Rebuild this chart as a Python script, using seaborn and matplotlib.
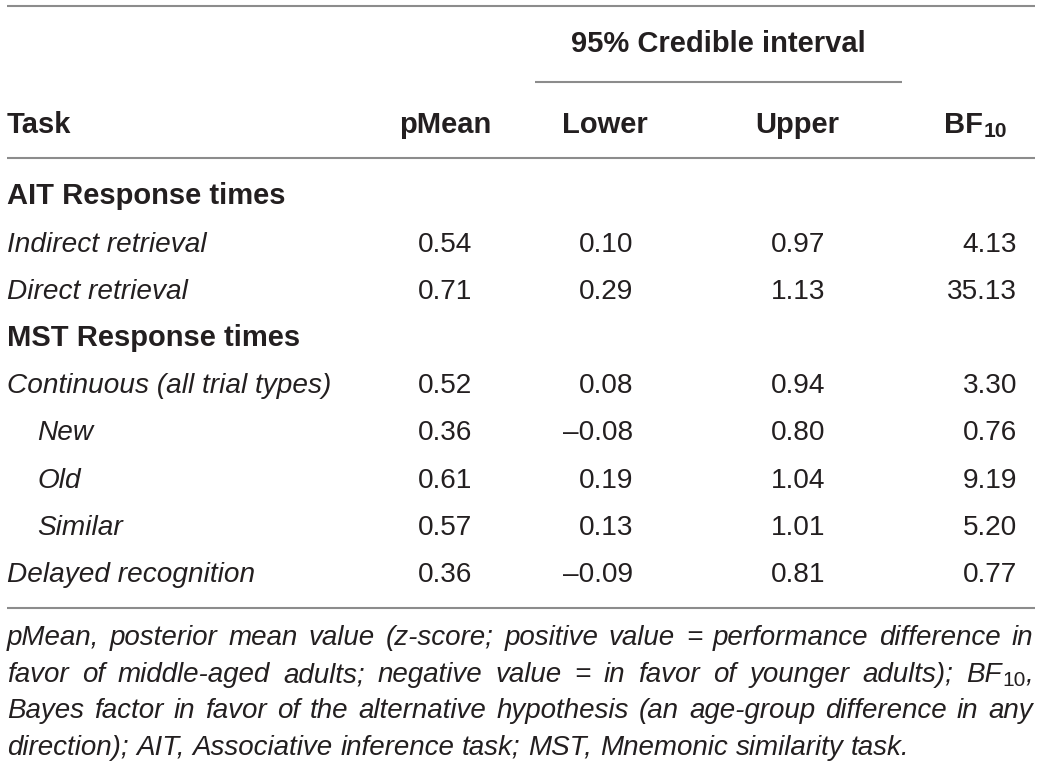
import matplotlib
matplotlib.use("Agg")
import matplotlib.pyplot as plt
import seaborn as sns

# ---------------- data ----------------
group_titles = ["AIT Response times", "MST Response times"]
task_labels = ["Indirect retrieval", "Direct retrieval",
               "Continuous (all trial types)", "New", "Old", "Similar",
               "Delayed recognition"]
task_group = [0, 0, 1, 1, 1, 1, 1]
task_indent = [0, 0, 0, 1, 1, 1, 0]
pmean = ["0.54", "0.71", "0.52", "0.36", "0.61", "0.57", "0.36"]
lower = ["0.10", "0.29", "0.08", "\u20130.08", "0.19", "0.13", "\u20130.09"]
upper = ["0.97", "1.13", "0.94", "0.80", "1.04", "1.01", "0.81"]
bf10 = ["4.13", "35.13", "3.30", "0.76", "9.19", "5.20", "0.77"]
col_headers = ["Task", "pMean", "Lower", "Upper"]
span_header = "95% Credible interval"
footnote_lines = [
    "pMean, posterior mean value (z-score; positive value = performance difference in",
    "favor of middle-aged adults; negative value = in favor of younger adults); BF|10|,",
    "Bayes factor in favor of the alternative hypothesis (an age-group difference in any",
    "direction); AIT, Associative inference task; MST, Mnemonic similarity task.",
]

# ---------------- style ----------------
sns.set_theme(style="white")
plt.rcParams["font.family"] = ["Liberation Sans", "DejaVu Sans"]
TXT = "#231f20"
RULE = "#8c8c8c"
FS = 20.2          # body size (pt)
FSB = 21.0         # bold size (pt)
FS_FOOT = 20.0     # footnote size (pt)

W, H = 1042, 769
fig = plt.figure(figsize=(W / 100, H / 100), dpi=100)
ax = fig.add_axes([0, 0, 1, 1])
ax.set_xlim(0, W)
ax.set_ylim(H, 0)
ax.axis("off")
renderer = fig.canvas.get_renderer()


def width_of(t):
    bb = t.get_window_extent(renderer=renderer)
    return bb.width


def runs_text(x, y, runs, ha="left"):
    objs = []
    total = 0
    for (s, fs, wt, st, dy) in runs:
        t = ax.text(0, y + dy, s, fontsize=fs, fontweight=wt, fontstyle=st,
                    color=TXT, va="baseline", ha="left")
        w = width_of(t)
        objs.append((t, w))
        total += w
    if ha == "right":
        x0 = x - total
    elif ha == "center":
        x0 = x - total / 2
    else:
        x0 = x
    cx = x0
    for t, w in objs:
        t.set_x(cx)
        cx += w
    return total


# rules
L, R = 7, 1035
for yy in [5.5, 158, 608]:
    ax.plot([L, R], [yy, yy], color=RULE, lw=1.5, solid_capstyle="butt")
ax.plot([535, 902], [82, 82], color=RULE, lw=1.5, solid_capstyle="butt")

# headers
ax.text(718.5, 52, span_header, fontsize=FSB, fontweight="bold", color=TXT,
        ha="center", va="baseline")
hdr_x = [7, 445, 605, 797]
hdr_ha = ["left", "center", "center", "center"]
for s, xx, ha in zip(col_headers, hdr_x, hdr_ha):
    ax.text(xx, 133, s, fontsize=FSB, fontweight="bold", color=TXT,
            ha=ha, va="baseline")
runs_text(1007, 133, [("BF", FSB, "bold", "normal", 0),
                      ("10", FSB * 0.72, "bold", "normal", 4)], ha="right")

# body
group_y = [204, 346]
row_y = [252, 299, 393, 440, 488, 535, 582]
for g, yy in zip(group_titles, group_y):
    ax.text(7, yy, g, fontsize=FSB, fontweight="bold", color=TXT,
            ha="left", va="baseline")
col_right = [472, 633, 825, 1017]
for i, yy in enumerate(row_y):
    ax.text(7 + 30 * task_indent[i], yy, task_labels[i], fontsize=FS,
            fontstyle="italic", color=TXT, ha="left", va="baseline")
    for vals, xr in zip([pmean, lower, upper, bf10], col_right):
        ax.text(xr, yy, vals[i], fontsize=FS, color=TXT, ha="right",
                va="baseline")

# footnote (justified)
foot_y = [645, 682, 718, 755]
for li, (line, yy) in enumerate(zip(footnote_lines, foot_y)):
    words = line.split(" ")
    items = []
    for w in words:
        parts = w.split("|")
        objs = []
        for k, p in enumerate(parts):
            if p == "":
                continue
            sub = (k == 1)
            t = ax.text(0, yy + (4 if sub else 0), p,
                        fontsize=FS_FOOT * (0.75 if sub else 1),
                        fontstyle="normal" if sub else "italic",
                        color=TXT, ha="left", va="baseline")
            objs.append((t, width_of(t)))
        items.append(objs)
    widths = [sum(w for _, w in objs) for objs in items]
    total = sum(widths)
    if li < len(footnote_lines) - 1:
        gap = (R - 2 - L - total) / (len(items) - 1)
    else:
        sp = ax.text(0, 0, "a a", fontsize=FS_FOOT, fontstyle="italic")
        aa = ax.text(0, 0, "aa", fontsize=FS_FOOT, fontstyle="italic")
        gap = width_of(sp) - width_of(aa)
        sp.remove()
        aa.remove()
    cx = L
    for objs, wsum in zip(items, widths):
        for t, w in objs:
            t.set_x(cx)
            cx += w
        cx += gap

fig.savefig("out.png", dpi=100)
